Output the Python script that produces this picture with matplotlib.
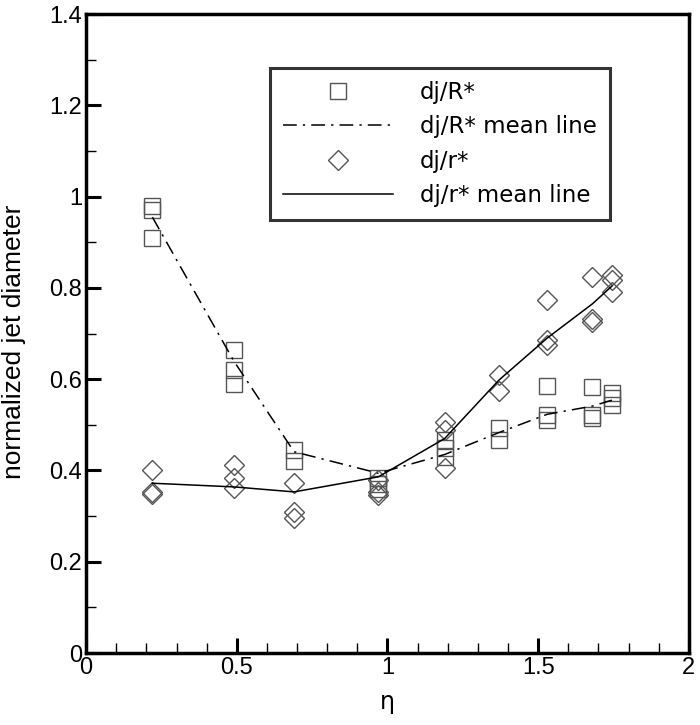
import numpy as np
import matplotlib
matplotlib.use("Agg")
import matplotlib.pyplot as plt

# posiciones eta de cada grupo
eta = [0.22, 0.49, 0.69, 0.97, 1.19, 1.37, 1.53, 1.68, 1.745]

# dj/R* (cuadrados), puntos por grupo
djR = [[0.98, 0.97, 0.91],
       [0.665, 0.62, 0.59],
       [0.445, 0.42],
       [0.383, 0.37, 0.36],
       [0.467, 0.449, 0.43],
       [0.492, 0.467],
       [0.585, 0.521, 0.51],
       [0.583, 0.521, 0.516],
       [0.57, 0.558, 0.543]]

# dj/r* (rombos), puntos por grupo
djr = [[0.401, 0.353, 0.348],
       [0.412, 0.383, 0.362],
       [0.372, 0.309, 0.295],
       [0.379, 0.353, 0.346],
       [0.507, 0.489, 0.405],
       [0.609, 0.573],
       [0.773, 0.686, 0.675],
       [0.823, 0.731, 0.725],
       [0.828, 0.817, 0.792]]

# lineas medias
meanR = [0.955, 0.64, 0.441, 0.394, 0.435, 0.483, 0.523, 0.541, 0.554]
meanr = [0.372, 0.364, 0.353, 0.386, 0.47, 0.598, 0.69, 0.765, 0.804]

plt.rcParams['font.family'] = ['Liberation Sans', 'DejaVu Sans']

fig = plt.figure(figsize=(7, 7.25), dpi=100)
ax = fig.add_axes([0.123, 0.0993, 0.861, 0.8813])

# Armo los puntos
xR = np.concatenate([[e]*len(v) for e, v in zip(eta, djR)])
yR = np.concatenate(djR)
xr = np.concatenate([[e]*len(v) for e, v in zip(eta, djr)])
yr = np.concatenate(djr)

gris = '#555555'
hR, = ax.plot(xR, yR, 's', ms=11, mfc='none', mec=gris, mew=1.0, label='dj/R*')
hRl, = ax.plot(eta, meanR, color='black', lw=1.1, dashes=[9, 4, 1.5, 4], label='dj/R* mean line')
hr, = ax.plot(xr, yr, 'D', ms=10, mfc='none', mec=gris, mew=1.0, label='dj/r*')
hrl, = ax.plot(eta, meanr, color='black', lw=1.1, label='dj/r* mean line')

ax.set_xlim(0, 2)
ax.set_ylim(0, 1.4)
ax.set_xticks([0, 0.5, 1, 1.5, 2])
ax.set_xticklabels(['0', '0.5', '1', '1.5', '2'])
ax.set_yticks([0, 0.2, 0.4, 0.6, 0.8, 1.0, 1.2, 1.4])
ax.set_yticklabels(['0', '0.2', '0.4', '0.6', '0.8', '1', '1.2', '1.4'])
ax.set_xticks(np.arange(0, 2.01, 0.1), minor=True)
ax.set_yticks(np.arange(0, 1.41, 0.1), minor=True)
ax.tick_params(which='major', direction='in', length=11, width=2.2, labelsize=17, pad=3)
ax.tick_params(which='minor', direction='in', length=7, width=1.0)
for s in ax.spines.values():
    s.set_linewidth(2.5)

ax.set_xlabel('η', fontsize=17, family='DejaVu Sans', labelpad=8)
ax.set_ylabel('normalized jet diameter', fontsize=19)
ax.yaxis.set_label_coords(-0.1, 0.487)

leg = ax.legend(handles=[hR, hRl, hr, hrl], loc='upper left',
                bbox_to_anchor=(0.305, 0.915), borderaxespad=0, frameon=True, fancybox=False,
                prop={'family': 'DejaVu Sans', 'size': 16.5}, handlelength=4.8,
                borderpad=0.55, labelspacing=0.5, handletextpad=1.2)
leg.get_frame().set_edgecolor('black')
leg.get_frame().set_linewidth(2.2)

fig.savefig('out.png', dpi=100)
